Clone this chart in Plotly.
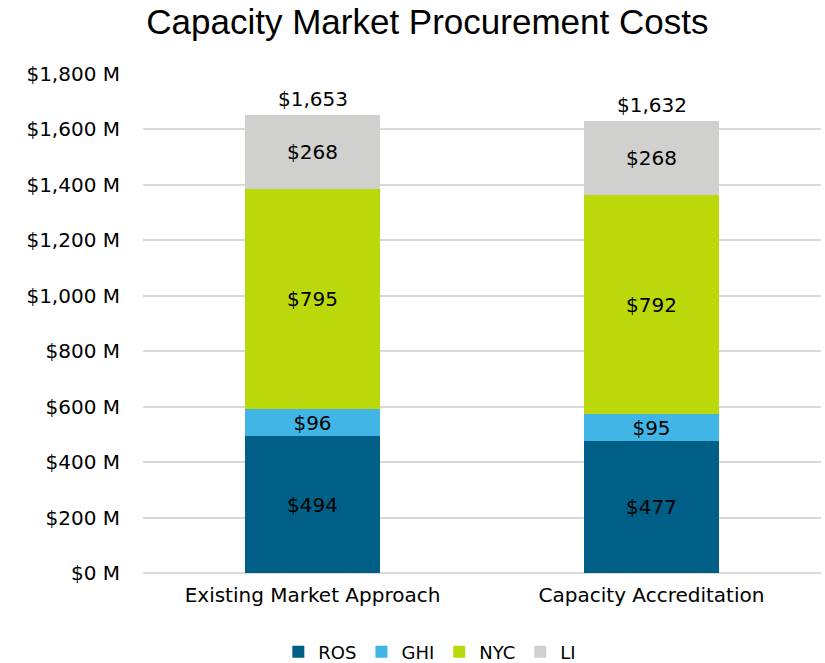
import plotly.graph_objects as go

categories = ["Existing Market Approach", "Capacity Accreditation"]
ros = [494, 477]
ghi = [96, 95]
nyc = [795, 792]
li = [268, 268]
totals = [1653, 1632]
series_names = ["ROS", "GHI", "NYC", "LI"]
series_colors = ["#005F86", "#41B6E6", "#BAD80A", "#D0D0CE"]
y_ticks = [0, 200, 400, 600, 800, 1000, 1200, 1400, 1600, 1800]
y_tick_labels = ["$0 M", "$200 M", "$400 M", "$600 M", "$800 M", "$1,000 M",
                 "$1,200 M", "$1,400 M", "$1,600 M", "$1,800 M"]

FONT = "DejaVu Sans, Verdana, sans-serif"
TITLE_FONT = "Liberation Sans, Arial, sans-serif"

fig = go.Figure()
for name, vals, col in zip(series_names, [ros, ghi, nyc, li], series_colors):
    fig.add_trace(go.Bar(
        name=name, x=categories, y=vals, marker_color=col, marker_line_width=0,
        text=[f"${v:,}" for v in vals], textposition="inside",
        insidetextanchor="middle", textangle=0,
        textfont=dict(family=FONT, size=20, color="black"),
        hoverinfo="skip",
    ))

for c, t in zip(categories, totals):
    fig.add_annotation(x=c, y=t, text=f"${t:,}", showarrow=False,
                       yanchor="bottom", yshift=2,
                       font=dict(family=FONT, size=20, color="black"))

fig.update_layout(
    width=825, height=663,
    barmode="stack", bargap=0.6,
    paper_bgcolor="white", plot_bgcolor="white",
    margin=dict(l=143, r=4, t=74, b=90, autoexpand=False),
    title=dict(text="Capacity Market Procurement Costs", x=0.518, xanchor="center",
               y=0.967, yanchor="middle", yref="container",
               font=dict(family=TITLE_FONT, size=35, color="black")),
    font=dict(family=FONT, size=20, color="black"),
    legend=dict(orientation="h", xref="container", yref="container",
                x=0.521, xanchor="center", y=0.0166, yanchor="middle",
                font=dict(family=FONT, size=18, color="black"),
                traceorder="normal"),
    showlegend=True,
    uniformtext=dict(minsize=20, mode="show"),
    hovermode=False,
)
fig.update_yaxes(range=[0, 1800], tickvals=y_ticks, ticktext=y_tick_labels,
                 showgrid=True, gridcolor="#D9D9D9", gridwidth=1.5,
                 zeroline=True, zerolinecolor="#D9D9D9", zerolinewidth=1.5,
                 showline=False, ticks="", ticklabelstandoff=22,
                 tickfont=dict(family=FONT, size=20, color="black"))
fig.update_xaxes(showline=False, ticks="", ticklabelstandoff=8,
                 tickfont=dict(family=FONT, size=20, color="black"))

fig.write_html(
    "out.html",
    config={"displayModeBar": False},
    post_script="document.body.style.margin='0';"
                "document.body.style.overflow='hidden';"
                "document.documentElement.style.overflow='hidden';",
)
